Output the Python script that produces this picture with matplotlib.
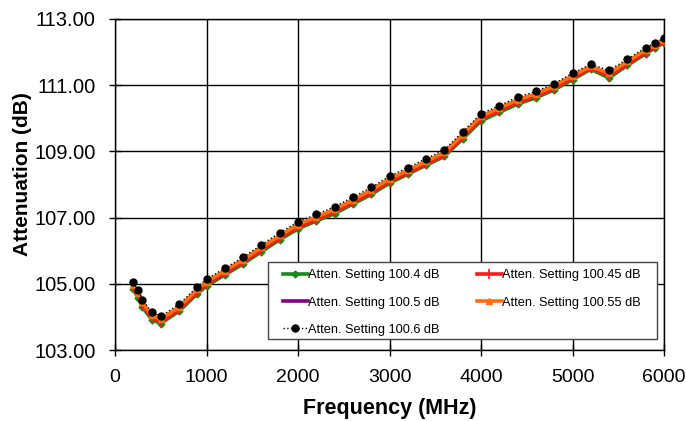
import matplotlib
matplotlib.use("Agg")
import matplotlib.pyplot as plt
from matplotlib.patches import Rectangle

freq = [200, 250, 300, 400, 500, 700, 900, 1000, 1200, 1400, 1600, 1800, 2000,
        2200, 2400, 2600, 2800, 3000, 3200, 3400, 3600, 3800, 4000, 4200, 4400,
        4600, 4800, 5000, 5200, 5400, 5600, 5800, 5900, 6000]

att_1006 = [105.05, 104.80, 104.52, 104.14, 104.02, 104.38, 104.91, 105.14, 105.47,
            105.80, 106.18, 106.54, 106.87, 107.10, 107.33, 107.62, 107.91, 108.25,
            108.51, 108.78, 109.05, 109.59, 110.14, 110.38, 110.64, 110.81, 111.05,
            111.36, 111.63, 111.45, 111.79, 112.13, 112.28, 112.43]
att_10055 = [104.97, 104.72, 104.44, 104.05, 103.93, 104.30, 104.83, 105.06, 105.40,
             105.73, 106.10, 106.46, 106.79, 107.02, 107.25, 107.54, 107.83, 108.17,
             108.43, 108.70, 108.97, 109.51, 110.06, 110.31, 110.56, 110.74, 110.98,
             111.29, 111.57, 111.36, 111.72, 112.06, 112.22, 112.37]
att_1005 = [104.92, 104.67, 104.39, 104.00, 103.88, 104.25, 104.78, 105.01, 105.35,
            105.68, 106.05, 106.41, 106.74, 106.97, 107.20, 107.49, 107.78, 108.12,
            108.38, 108.65, 108.92, 109.46, 110.01, 110.26, 110.51, 110.69, 110.93,
            111.24, 111.53, 111.31, 111.67, 112.01, 112.18, 112.33]
att_10045 = [104.89, 104.64, 104.36, 103.97, 103.85, 104.22, 104.75, 104.98, 105.32,
             105.65, 106.02, 106.38, 106.71, 106.94, 107.17, 107.46, 107.75, 108.09,
             108.35, 108.62, 108.89, 109.43, 109.98, 110.23, 110.48, 110.66, 110.90,
             111.21, 111.51, 111.28, 111.64, 111.98, 112.15, 112.31]
att_1004 = [104.85, 104.58, 104.30, 103.92, 103.80, 104.17, 104.70, 104.93, 105.27,
            105.60, 105.97, 106.33, 106.66, 106.90, 107.12, 107.41, 107.70, 108.04,
            108.31, 108.58, 108.85, 109.38, 109.92, 110.18, 110.43, 110.62, 110.86,
            111.17, 111.48, 111.22, 111.60, 111.95, 112.12, 112.28]

labels = ["Atten. Setting 100.4 dB", "Atten. Setting 100.45 dB",
          "Atten. Setting 100.5 dB", "Atten. Setting 100.55 dB",
          "Atten. Setting 100.6 dB"]
yticks = [103, 105, 107, 109, 111, 113]
xticks = [0, 1000, 2000, 3000, 4000, 5000, 6000]

plt.rcParams['font.family'] = ['Liberation Sans', 'DejaVu Sans']

fig = plt.figure(figsize=(6.86, 4.21), dpi=100)
ax = fig.add_axes([115/686, 1-350/421, (664-115)/686, (350-19)/421])

l_g, = ax.plot(freq, att_1004, color='#1a8a1a', lw=2.6, marker='D', ms=3.5, label=labels[0], zorder=3)
l_p, = ax.plot(freq, att_1005, color='#800080', lw=2.6, label=labels[2], zorder=4)
l_r, = ax.plot(freq, att_10045, color='#ff1a1a', lw=2.6, marker='|', ms=7, mew=1.2, label=labels[1], zorder=5)
l_o, = ax.plot(freq, att_10055, color='#ff7010', lw=2.6, marker='^', ms=5, label=labels[3], zorder=6)
l_b, = ax.plot(freq, att_1006, color='black', lw=1, ls=':', marker='o', ms=5, label=labels[4], zorder=7)

ax.set_xlim(0, 6000)
ax.set_ylim(103, 113)
ax.set_xticks(xticks)
ax.set_yticks(yticks)
ax.set_yticklabels([f"{v:.2f}" for v in yticks])
ax.tick_params(axis='both', direction='inout', length=8, width=1, colors='black')
ax.tick_params(axis='y', pad=10, labelsize=14.5)
ax.tick_params(axis='x', pad=10, labelsize=14)
ax.grid(True, color='black', lw=1)
ax.set_axisbelow(True)
for s in ax.spines.values():
    s.set_color('black')
    s.set_linewidth(1)

ax.set_xlabel("Frequency (MHz)", fontsize=15.5, fontweight='bold', labelpad=8)
ax.set_ylabel("Attenuation (dB)", fontsize=15, fontweight='bold')
ax.yaxis.set_label_coords(-0.151, 0.532)

leg = ax.legend(handles=[l_g, l_p, l_b, l_r, l_o], ncol=2, loc='lower right',
                bbox_to_anchor=(646/686, 1-341/421), bbox_transform=fig.transFigure,
                borderaxespad=0,
                fontsize=9.2, frameon=False,
                handlelength=1.95, handletextpad=0.05, columnspacing=2.9,
                labelspacing=1.2, borderpad=0.4)
leg.set_zorder(10)

# white framed box around the legend, wider than the legend's own padding
fig.canvas.draw()
bb = leg.get_window_extent()
inv = ax.transAxes.inverted()
(x0, y0) = inv.transform((bb.x0 - 9, bb.y0 + 2))
(x1, y1) = inv.transform((bb.x1 + 11, bb.y1 + 2))
ax.add_patch(Rectangle((x0, y0), x1 - x0, y1 - y0, transform=ax.transAxes,
                       facecolor='white', edgecolor='#444444', lw=1,
                       zorder=9, clip_on=False))

fig.savefig("out.png", dpi=100)
